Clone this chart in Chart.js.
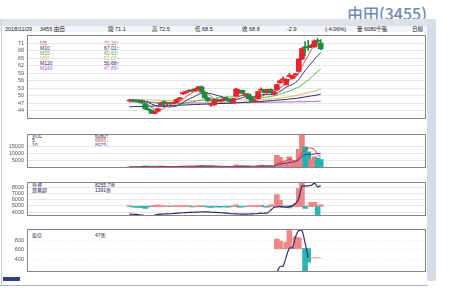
<!DOCTYPE html>
<html>
<head>
<meta charset="utf-8">
<script src="https://cdn.jsdelivr.net/npm/chart.js@4.4.0/dist/chart.umd.min.js"></script>
<style>
  html, body { margin: 0; padding: 0; background: #fff; }
  body { width: 450px; height: 293px; position: relative; overflow: hidden; font-family: "Liberation Sans", "Noto Sans CJK TC", sans-serif; }
  canvas { position: absolute; left: 0; }
  .abs { position: absolute; white-space: nowrap; }
  #title { left: 347px; top: 4px; font: 500 16px/18px "Noto Sans CJK TC", sans-serif; color: #6e8db1; }
  #band { left: 0; top: 19px; width: 436px; height: 7px; background: #dde2e8; }
  #row { left: 0; top: 26px; width: 427px; height: 6px; background: #f4f5f7; }
  #rstrip { left: 427px; top: 19px; width: 9px; height: 262px; background: #d6dde6; }
  #lline { left: 1px; top: 19px; width: 1px; height: 266px; background: #c3ccd8; }
  #bline { left: 0; top: 285px; width: 428px; height: 1px; background: #a7b6c9; }
  #btn { left: 3px; top: 277px; width: 17px; height: 4px; background: #2c3e91; }
  .hd { font-size: 5.5px; line-height: 6px; top: 26px; color: #222; }
  .lg { font-size: 5px; line-height: 5px; }
</style>
</head>
<body>
<div id="title" class="abs">由田(3455)</div>
<div id="band" class="abs"></div>
<div id="row" class="abs"></div>
<div id="rstrip" class="abs"></div>
<div id="lline" class="abs"></div>
<div id="bline" class="abs"></div>
<div id="btn" class="abs"></div>
<div id="header"></div>
<div id="legends"></div>

<canvas id="pricePanel" width="430" height="103" style="top:29px"></canvas>
<canvas id="volPanel" width="430" height="53" style="top:128px"></canvas>
<canvas id="foreignPanel" width="430" height="53" style="top:176px"></canvas>
<canvas id="trustPanel" width="430" height="62" style="top:223px"></canvas>

<script>
// trading days shown (Sep 3 - Nov 29, 2018)
const dates = [
  "09/03","09/04","09/05","09/06","09/07","09/10","09/11","09/12","09/13","09/14",
  "09/17","09/18","09/19","09/20","09/21","09/25","09/26","09/27","09/28",
  "10/01","10/02","10/03","10/04","10/05","10/08","10/09","10/11","10/12","10/15",
  "10/16","10/17","10/18","10/19","10/22","10/23","10/24","10/25","10/26","10/29","10/30","10/31",
  "11/01","11/02","11/05","11/06","11/07","11/08","11/09","11/12","11/13","11/14",
  "11/15","11/16","11/19","11/20","11/21","11/22","11/23","11/26","11/27","11/28","11/29"
];

const openP = [48.0,48.3,48.0,47.8,47.6,46.9,44.8,44.3,43.0,43.8, 46.5,47.8,46.8,47.2,47.0,47.5,48.7,50.8,51.3,51.8,
  52.2,52.0,52.8,53.6,51.3,49.2,46.4,46.4,48.4,48.0, 48.4,49.0,48.2,47.1,50.0,51.3,52.2,50.3,50.6,49.2,
  47.8,48.9,52.2,52.4,51.3,52.6,50.6,52.4,55.2,56.4, 54.5,57.8,57.0,58.4,59.8,64.7,69.6,69.6,69.8,69.6, 72.2,71.1];
const highP = [48.6,48.6,48.4,48.2,47.9,47.0,45.2,44.5,43.8,45.2, 47.3,48.0,47.4,47.6,47.6,48.7,49.4,51.5,51.8,52.4,
  52.6,53.0,53.8,54.0,51.5,49.5,46.8,48.7,48.8,48.6, 49.0,49.6,48.5,49.0,53.0,52.5,52.4,50.8,50.8,49.4,
  48.5,51.9,53.2,52.6,52.6,52.8,51.9,54.7,56.4,57.6, 56.8,59.0,58.3,59.0,64.9,69.2,71.7,72.3,70.6,72.4, 73.0,72.5];
const lowP = [47.6,47.8,47.6,47.3,47.0,44.6,44.2,42.9,42.8,43.6, 46.3,46.6,46.5,46.8,46.7,47.3,48.6,50.6,51.0,51.7,
  51.6,51.8,52.5,51.3,49.0,47.8,45.8,46.2,47.8,47.6, 48.0,48.0,47.5,46.9,49.8,51.0,50.8,49.8,48.7,47.6,
  47.6,48.7,52.0,51.1,51.1,51.1,50.4,52.2,55.0,56.0, 54.3,57.5,56.8,58.2,59.6,64.5,66.0,68.2,69.3,69.4, 71.2,68.5];
const closeP = [48.3,48.0,47.8,47.6,47.2,44.8,44.5,43.0,43.6,45.0, 47.1,46.8,47.2,47.0,47.4,48.5,49.2,51.3,51.5,52.2,
  52.0,52.8,53.6,51.5,49.2,48.0,46.5,48.5,48.0,48.4, 48.6,48.2,47.8,48.9,52.7,51.6,51.0,50.4,48.9,47.8,
  48.2,51.7,52.4,51.3,52.4,51.3,51.7,54.5,56.0,56.6, 56.6,58.0,58.0,58.7,64.7,68.9,69.2,69.3,70.0,72.0, 71.8,68.8];

const ma5 = [48.4,48.3,48.1,47.9,47.8,47.1,46.4,45.4,44.6,44.2, 44.6,45.1,45.9,46.6,47.1,47.4,47.9,48.7,49.6,50.5,
  51.2,52.0,52.4,52.4,51.8,51.0,49.8,48.7,48.0,47.9, 48.0,48.3,48.2,48.4,49.2,49.8,50.4,50.9,50.9,49.9,
  49.3,49.4,49.8,50.3,51.2,51.8,51.8,52.2,53.2,54.0, 55.1,56.3,57.0,57.6,59.2,61.7,63.9,66.2,68.5,69.9, 70.5,70.4];
const ma10 = [48.3,48.3,48.3,48.3,48.3,47.8,47.4,46.8,46.3,46.0, 45.9,45.8,45.7,45.6,45.7,46.0,46.5,47.3,48.1,48.8,
  49.3,50.0,50.6,51.0,51.2,51.1,50.9,50.6,50.2,49.9, 49.5,49.1,48.5,48.2,48.6,48.9,49.4,49.6,49.7,49.6,
  49.6,49.9,50.4,50.6,50.6,50.6,50.6,51.0,51.8,52.6, 53.5,54.1,54.6,55.4,56.6,58.4,60.1,61.6,63.1,64.6, 66.1,67.2];
const ma20 = [48.5,48.4,48.3,48.2,48.1,47.9,47.7,47.5,47.3,47.1, 47.1,47.0,47.0,47.0,47.0,46.9,47.0,47.0,47.2,47.4,
  47.6,47.9,48.2,48.3,48.5,48.6,48.7,49.0,49.2,49.4, 49.4,49.6,49.6,49.6,49.9,50.0,50.2,50.1,50.0,49.8,
  49.6,49.5,49.5,49.4,49.6,49.8,50.0,50.3,50.8,51.1, 51.6,52.0,52.5,53.0,53.6,54.5,55.4,56.3,57.5,58.6, 59.8,60.7];
const ma60 = [48.6,48.6,48.6,48.5,48.5,48.5,48.4,48.4,48.3,48.3, 48.3,48.2,48.2,48.2,48.1,48.1,48.1,48.1,48.1,48.1,
  48.1,48.2,48.2,48.2,48.3,48.3,48.3,48.3,48.3,48.3, 48.3,48.3,48.3,48.3,48.4,48.4,48.4,48.4,48.4,48.4,
  48.4,48.5,48.5,48.6,48.7,48.8,48.9,49.0,49.2,49.3, 49.5,49.7,49.9,50.1,50.4,50.7,51.0,51.3,51.7,52.0, 52.3,52.7];
const ma120 = [45.7,45.7,45.8,45.8,45.8,45.9,45.9,45.9,46.0,46.0, 46.0,46.1,46.1,46.2,46.2,46.3,46.3,46.4,46.4,46.5,
  46.5,46.6,46.6,46.7,46.7,46.8,46.8,46.9,46.9,47.0, 47.0,47.1,47.1,47.2,47.3,47.3,47.4,47.5,47.5,47.6,
  47.7,47.7,47.8,47.9,48.0,48.1,48.2,48.3,48.4,48.5, 48.6,48.8,48.9,49.0,49.2,49.4,49.6,49.8,50.0,50.2, 50.4,50.7];
const ma240 = [47.6,47.6,47.6,47.5,47.5,47.5,47.5,47.4,47.4,47.4, 47.4,47.3,47.3,47.3,47.3,47.3,47.2,47.2,47.2,47.2,
  47.2,47.2,47.2,47.2,47.2,47.2,47.2,47.2,47.2,47.2, 47.2,47.2,47.2,47.3,47.3,47.3,47.3,47.3,47.3,47.4,
  47.4,47.4,47.4,47.4,47.5,47.5,47.5,47.5,47.5,47.6, 47.6,47.6,47.6,47.7,47.7,47.7,47.7,47.8,47.8,47.8, 47.9,47.9];

const volume = [900,700,650,600,800,1500,1100,1400,1000,1200, 1300,900,700,650,700,1000,1100,1600,1200,1400,
  1000,1300,1500,1700,1400,1200,1300,1100,800,700, 700,800,900,1200,2200,1500,1300,1000,1100,1000,
  800,1800,2000,1600,1200,1100,1400,9000,7600,4200, 4200,8000,4000,5000,13300,25000,15000,11500,6300,8000, 7000,6080];
const volMa5 = [800,800,750,700,730,850,930,1080,1160,1240, 1200,1160,1020,950,850,790,830,1010,1120,1260,
  1260,1300,1280,1380,1380,1420,1420,1340,1160,1020, 920,820,780,860,1160,1320,1420,1440,1420,1180,
  1040,1140,1340,1440,1480,1540,1460,2860,4060,4660, 5280,6600,5600,5080,6900,11060,12460,13960,14220,13160, 9560,7776];
const volMa10 = [800,800,800,800,800,830,860,930,960,990, 1020,1050,1050,1060,1050,1000,1000,1020,1040,1060,
  1030,1070,1150,1250,1320,1340,1360,1310,1270,1200, 1170,1120,1060,1010,1090,1120,1120,1110,1140,1170,
  1180,1280,1390,1430,1330,1290,1300,2100,2750,3070, 3410,4030,4230,4570,5780,8170,9530,9780,9650,10030, 10310,10118];

const foreignNet = [300,-200,-400,-300,-500,-800,-200,200,400,600, 300,200,100,-100,200,300,400,200,300,200,
  -200,100,200,300,-100,-300,-400,-200,-200,-300, -100,-300,-200,200,600,-300,-200,-100,200,300,
  300,400,500,-200,-300,600,500,4900,2500,-300, 300,-600,500,1200,7500,9800,-800,100,1700,1700, -4000,600];
const foreignHold = [3700,3680,3650,3600,3550,3450,3430,3440,3500,3650, 3700,3720,3740,3760,3800,3850,3880,3920,3950,3970,
  3990,4010,4030,4050,4060,4050,4000,3980,3960,3930, 3900,3850,3800,3760,3740,3720,3700,3700,3720,3740,
  3760,3800,3850,3830,3900,4300,4750,4850,4900,4850, 4800,4900,5050,5400,6200,8180,8180,8200,8300,8650, 8050,8260];

const trustStart = 47;
const trustNet = [200,160,0,132,380,0,246,226,0,-520,-288];
const trustHold = [126,240,250,450,630,640,880,1000,1000,740,430];
const trustLastStart = 57;
const trustHoldLast = [430,426,426,426,426];

const priceTicks = [44,47,50,53,56,59,62,65,68,71];
const volTicks = [5000,10000,15000];
const foreignTicks = [4000,5000,6000,7000,8000];
const trustTicks = [400,600,800];

const headerTexts = ["2018/11/29","3455 由田","開 71.1","高 72.5","低 68.5","收 68.8","-2.9","(-4.06%)","量 6080千張","日線"];
const maNames = ["M5","M10","M20","M60","M120","M240"];
const maValues = ["70.16↑","67.01↑","60.63↑","52.69↑","50.68↑","47.89↑"];
const volNames = ["VOL","5","10"];
const volValues = ["6080↑","6865↓","8925↓"];
const foreignNames = ["外資","買賣超"];
const foreignValues = ["8255.7張","1391張"];
const trustNames = ["投信"];
const trustValues = ["47張"];

// ---------- page text ----------
const FONT = '"Liberation Sans", Arial, sans-serif';
const headerX = [5,40,108,152,195,242,287,325,357,412];
let html = "";
headerTexts.forEach((t, i) => { html += `<div class="abs hd" style="left:${headerX[i]}px">${t}</div>`; });
document.getElementById("header").innerHTML = html;

const maColors = ["#d84848","#27318a","#4fae4f","#d6b063","#1a1f4d","#b05fc2"];
function legendBlock(names, values, nameX, valX, top, step, nameColors, valColors) {
  let s = "";
  names.forEach((n, i) => {
    const y = top + i * step;
    s += `<div class="abs lg" style="left:${nameX}px;top:${y}px;color:${nameColors[i]}">${n}</div>`;
    s += `<div class="abs lg" style="left:${valX}px;top:${y}px;color:${valColors[i]}">${values[i]}</div>`;
  });
  return s;
}
const navy = "#1c2452";
let lg = legendBlock(maNames, maValues, 40, 104, 40.5, 5.1, maColors, maColors);
lg += legendBlock(volNames, volValues, 32, 95, 133.5, 4.6, [navy, navy, navy], [navy, "#d1522e", "#3a4aa8"]);
lg += legendBlock(foreignNames, foreignValues, 32, 95, 182.5, 5, [navy, navy], [navy, navy]);
lg += legendBlock(trustNames, trustValues, 32, 95, 232.5, 5, [navy], [navy]);
document.getElementById("legends").innerHTML = lg;

// ---------- chart helpers ----------
const frame = {
  id: "frame",
  afterDraw(chart) {
    const { ctx, chartArea: a } = chart;
    ctx.save();
    ctx.strokeStyle = "#8d7f87";
    ctx.lineWidth = 1;
    ctx.strokeRect(Math.round(a.left) + 0.5, Math.round(a.top) + 0.5, Math.round(a.right - a.left) - 1, Math.round(a.bottom - a.top) - 1);
    ctx.restore();
  }
};
Chart.register(frame);

const idx = dates.map((d, i) => i);
const monthStarts = idx.filter(i => i > 0 && dates[i].slice(0, 2) !== dates[i - 1].slice(0, 2));
const UP = "#e3242b", DOWN = "#1d8a3d";
const isUp = i => closeP[i] >= openP[i];

function xAxis(show) {
  return {
    type: "linear", min: -0.88, max: 62.76, display: show,
    grid: { display: false }, border: { display: false },
    afterBuildTicks: s => { s.ticks = monthStarts.map(v => ({ value: v })); },
    afterFit: s => { s.height = 9; },
    ticks: { font: { size: 5.5, family: FONT }, color: "#444", padding: 4, maxRotation: 0, autoSkip: false,
      callback: v => String(parseInt(dates[v], 10)) }
  };
}
function yAxis(min, max, ticks, dash) {
  return {
    position: "left", min, max,
    afterBuildTicks: s => { s.ticks = ticks.map(v => ({ value: v })); },
    afterFit: s => { s.width = 27; },
    grid: { color: "#e6e6e6", drawTicks: false, lineWidth: 1 },
    border: { display: false, dash: dash || [] },
    ticks: { font: { size: 5.5, family: FONT }, color: "#555", padding: 3, autoSkip: false, callback: v => String(v) }
  };
}
function line(data, color, yID, width) {
  return { type: "line", data, borderColor: color, borderWidth: width || 1, pointRadius: 0, tension: 0.25, yAxisID: yID || "y", order: 1 };
}
const pts = arr => arr.map((v, i) => ({ x: i, y: v }));
const ptsFrom = (start, arr) => arr.map((v, k) => ({ x: start + k, y: v }));
const base = (padBottom) => ({
  responsive: false, animation: false, devicePixelRatio: 1,
  layout: { padding: { top: 4, bottom: padBottom, left: 0, right: 4 } },
  plugins: { legend: { display: false }, tooltip: { enabled: false } }
});

// ---------- price panel ----------
new Chart(document.getElementById("pricePanel"), {
  data: {
    datasets: [
      { type: "bar", data: idx.map(i => ({ x: i, y: [lowP[i], highP[i]] })), barThickness: 1, grouped: false, order: 0,
        backgroundColor: c => isUp(c.dataIndex) ? UP : DOWN },
      { type: "bar", data: idx.map(i => ({ x: i, y: [openP[i], closeP[i]] })), barThickness: 5, minBarLength: 1, grouped: false, order: 0,
        backgroundColor: c => isUp(c.dataIndex) ? UP : DOWN },
      line(pts(ma5), maColors[0]),
      line(pts(ma10), maColors[1]),
      line(pts(ma20), maColors[2]),
      line(pts(ma60), maColors[3]),
      line(pts(ma120), maColors[4]),
      line(pts(ma240), maColors[5])
    ]
  },
  options: Object.assign(base(4), { scales: { x: xAxis(false), y: yAxis(40.8, 74.2, priceTicks) } })
});

// ---------- volume panel ----------
new Chart(document.getElementById("volPanel"), {
  data: {
    datasets: [
      { type: "bar", data: pts(volume), barThickness: 5, grouped: false, order: 2,
        backgroundColor: c => isUp(c.dataIndex) ? "#f07f7f" : "#22b2b0" },
      line(pts(volMa5), "#d9363e"),
      line(pts(volMa10), "#2f3fa0")
    ]
  },
  options: Object.assign(base(4), { scales: { x: xAxis(false), y: yAxis(0, 24000, volTicks) } })
});

// ---------- foreign investors panel ----------
new Chart(document.getElementById("foreignPanel"), {
  data: {
    datasets: [
      { type: "bar", data: pts(foreignNet), barThickness: 5, grouped: false, yAxisID: "yb", order: 2,
        backgroundColor: c => foreignNet[c.dataIndex] >= 0 ? "#f08585" : "#2bb5b5" },
      line(pts(foreignHold), "#1f2a6b", "y", 1.2)
    ]
  },
  options: Object.assign(base(4), { scales: {
    x: xAxis(false), y: yAxis(3400, 8780, foreignTicks),
    yb: { display: false, min: -4000, max: 10000 }
  } })
});

// ---------- investment trust panel ----------
new Chart(document.getElementById("trustPanel"), {
  data: {
    datasets: [
      { type: "bar", data: ptsFrom(trustStart, trustNet), barThickness: 5, grouped: false, yAxisID: "yb", order: 2,
        backgroundColor: c => trustNet[c.dataIndex] >= 0 ? "#f08585" : "#2bb5b5" },
      line(ptsFrom(trustStart, trustHold), "#2a3580", "y", 1.2),
      line(ptsFrom(trustLastStart, trustHoldLast), "#d98c8c", "y", 1)
    ]
  },
  options: Object.assign(base(4), { scales: {
    x: xAxis(true), y: yAxis(126, 1026, trustTicks, [1, 2]),
    yb: { display: false, min: -494, max: 406 }
  } })
});
</script>
</body>
</html>
